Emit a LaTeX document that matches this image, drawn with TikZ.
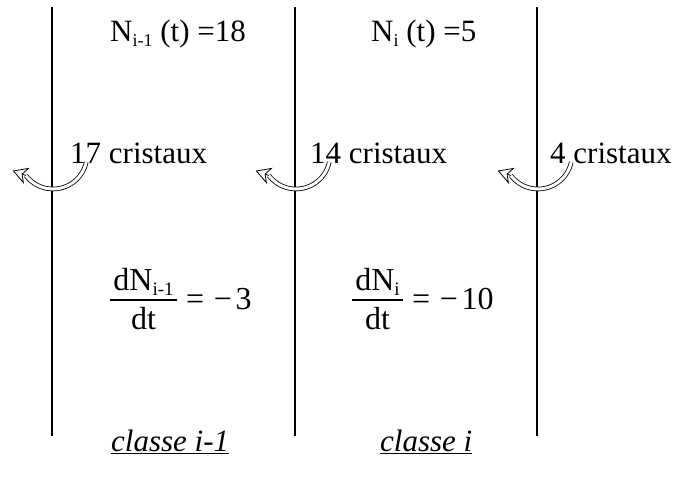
\documentclass[tikz,border=0pt]{standalone}
\usepackage{fontspec}
\setmainfont{Liberation Serif}
\usetikzlibrary{arrows.meta,calc}
\newcommand{\sbs}[1]{\raisebox{-0.18em}{\fontsize{18}{18}\selectfont #1}}
\newcommand{\fsb}[1]{\raisebox{-0.16em}{\fontsize{19}{19}\selectfont #1}}
\begin{document}
\begin{tikzpicture}[x=1pt,y=1pt,
  txt/.style={inner sep=0pt, font=\fontsize{31}{35}\selectfont},
  frac/.style={inner sep=0pt, font=\fontsize{32}{36}\selectfont},
  sep/.style={line width=1.6pt},
  bar/.style={line width=1.2pt},
  swapline/.style={double=white, line width=0.8pt, double distance=3pt},
  swaphead/.style={line width=0.8pt,
    -{Stealth[open, fill=white, length=15pt, width=17pt, inset=4.5pt]}}]
\useasboundingbox (0,0) rectangle (678,-482);
% separating lines
\foreach \n/\x in {a/52,b/295,c/537}{
  \coordinate (\n top) at (\x,-7);
  \coordinate (\n bot) at (\x,-436);
  \draw[sep] (\n top) -- (\n bot);
}
% top labels
\node[txt, anchor=base west] (Nim1) at (110,-41) {N\sbs{i-1} (t) =18};
\node[txt, anchor=base west] (Ni) at (371,-41) {N\sbs{i} (t) =5};
% crystals
\node[txt, anchor=base west] (c17) at (70,-163) {17 cristaux};
\node[txt, anchor=base west] (c14) at (310,-163) {14 cristaux};
\node[txt, anchor=base west] (c4) at (550,-163) {4 cristaux};
% curved arrows
\foreach \x in {52,295,537}{
  \coordinate (arcstart) at ($(\x+1,-155)+(-12:34)$);
  \coordinate (arcend) at ($(\x+1,-155)+(-143:34)$);
  \draw[swapline] (arcstart) arc[start angle=-12, end angle=-143, radius=34];
  \draw[swaphead] (arcend) -- ($(arcend)+(160:14)$);
}
% derivative of class i-1
\coordinate (b1l) at (110,-300);
\coordinate (b1r) at (177,-300);
\draw[bar] (b1l) -- (b1r);
\node[frac, anchor=base] (n1) at ($(b1l)!0.5!(b1r)+(0,10)$) {dN\fsb{i-1}};
\node[frac, anchor=base] (m1) at ($(b1l)!0.5!(b1r)+(0,-29)$) {dt};
\node[frac, anchor=base west] (e1) at (186,-309) {=\hspace{0.3em}−\hspace{0.12em}3};
% derivative of class i
\coordinate (b2l) at (352,-300);
\coordinate (b2r) at (403,-300);
\draw[bar] (b2l) -- (b2r);
\node[frac, anchor=base] (n2) at ($(b2l)!0.5!(b2r)+(0,10)$) {dN\fsb{i}};
\node[frac, anchor=base] (m2) at ($(b2l)!0.5!(b2r)+(0,-29)$) {dt};
\node[frac, anchor=base west] (e2) at (412,-309) {=\hspace{0.3em}−\hspace{0.12em}10};
% class labels
\node[txt, anchor=base west] (k1) at (111,-451) {\underline{\textit{classe i-1}}};
\node[txt, anchor=base west] (k2) at (380,-451) {\underline{\textit{classe i}}};
\end{tikzpicture}
\end{document}
